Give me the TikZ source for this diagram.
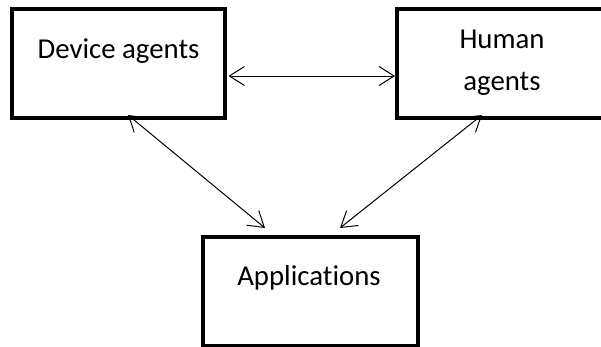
\documentclass[tikz,border=0pt]{standalone}
\usepackage{fontspec}
\setmainfont{Carlito}[Ligatures=NoCommon]
\usetikzlibrary{arrows.meta,calc,positioning}

\begin{document}
\begin{tikzpicture}[x=1pt,y=-1pt,>={Straight Barb[length=15pt,width=19pt]},box/.style = {draw, rectangle, line width=4pt, minimum width=213pt, minimum height=109pt, inner sep=0pt},txt/.style = {font=\fontsize{28.8}{42}\selectfont, inner sep=0pt},]
\useasboundingbox (0,0) rectangle (601,346);
\node (D) at (118.5,63.5)[box] {};
\node (H) at (502,63.5)[box,minimum width=210pt] {};
\node (A) at (310.5,291.5)[box,minimum width=215pt] {};
\node (Dt) at (118.5,58)[txt,anchor=base] {Device agents};
\node (Ht) at (502,90)[txt,anchor=base,align=center] {Human\\agents};
\node (At) at (309,285)[txt,anchor=base] {Applications};
\draw[<->,line width=1pt] ($(D.east)+(1.5,12.5)$)--($(H.west)+(0,12.5)$);
\draw[<->,line width=1pt] ($(D.south)+(9.5,-5)$)--($(A.north)+(-45.5,-7)$);
\draw[<->,line width=1pt] ($(H.south)+(-20,-5)$)--($(A.north)+(29.5,-7)$);
\end{tikzpicture}
\end{document}
